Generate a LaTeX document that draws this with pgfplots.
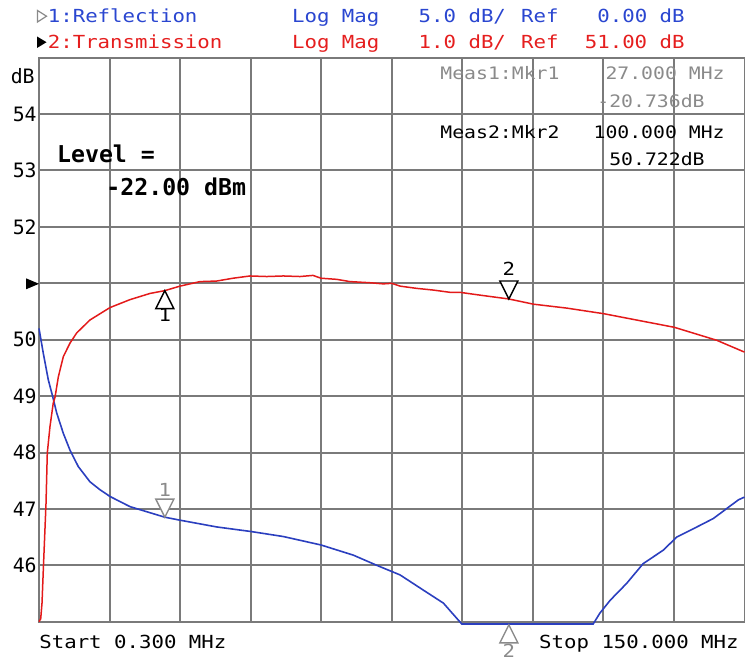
\documentclass[border=0pt]{standalone}
\usepackage{pgfplots}
\pgfplotsset{compat=1.18}
\usepackage{pgfplotstable}
\usepackage{fontspec}
\newfontfamily\mono{DejaVu Sans Mono}[FakeStretch=1.15]
\newfontfamily\monon{DejaVu Sans Mono}

\definecolor{tracered}{HTML}{E31A1A}
\definecolor{traceblue}{HTML}{2B3FBF}
\definecolor{txtblue}{HTML}{2A46D0}
\definecolor{txtred}{HTML}{E51E1E}
\definecolor{gridgray}{HTML}{7A7A7A}
\definecolor{mkgray}{HTML}{8A8A8A}

% trace 2: transmission, dB
\pgfplotstableread{
f s21
0.30 45.00
0.66 45.05
0.94 45.33
1.21 45.91
1.79 47.10
2.06 47.99
2.63 48.46
3.33 48.88
3.70 48.98
4.40 49.34
5.46 49.70
6.88 49.94
8.30 50.12
11.12 50.35
15.37 50.57
19.60 50.71
23.85 50.82
27.00 50.87
30.22 50.95
34.46 51.03
38.00 51.04
41.47 51.09
45.07 51.13
48.62 51.12
52.14 51.13
55.68 51.12
58.44 51.14
60.14 51.09
63.47 51.07
66.30 51.03
70.54 51.01
73.36 50.99
75.14 51.00
76.90 50.95
80.45 50.91
83.97 50.88
87.51 50.84
89.60 50.84
93.90 50.79
100.00 50.722
105.20 50.63
112.30 50.56
120.20 50.46
126.40 50.36
135.10 50.22
144.10 49.99
150.00 49.78
}\transdata

% trace 1: reflection, dB (5 dB/div, ref 0 dB on the 51 line)
\pgfplotstableread{
f s11
0.30 -4.00
1.21 -6.20
2.27 -8.55
3.21 -10.05
4.06 -11.50
5.46 -13.30
6.88 -14.80
8.64 -16.25
11.12 -17.60
13.24 -18.30
15.37 -18.90
19.61 -19.80
27.00 -20.736
30.22 -21.00
38.00 -21.60
45.20 -22.00
52.14 -22.45
60.14 -23.20
67.00 -24.10
71.96 -25.00
76.90 -25.85
81.85 -27.20
86.10 -28.35
90.00 -30.20
117.90 -30.20
119.30 -29.25
121.50 -28.10
125.00 -26.60
128.50 -24.85
132.80 -23.65
135.60 -22.50
139.90 -21.60
143.40 -20.85
148.70 -19.20
150.00 -18.95
}\refldata

\pgfdeclareplotmark{mkup}{%
  \pgfpathmoveto{\pgfpoint{0pt}{0pt}}%
  \pgfpathlineto{\pgfpoint{4.5pt}{-9pt}}%
  \pgfpathlineto{\pgfpoint{-4.5pt}{-9pt}}%
  \pgfpathclose\pgfusepathqfillstroke}
\pgfdeclareplotmark{mkdown}{%
  \pgfpathmoveto{\pgfpoint{0pt}{0pt}}%
  \pgfpathlineto{\pgfpoint{4.5pt}{9pt}}%
  \pgfpathlineto{\pgfpoint{-4.5pt}{9pt}}%
  \pgfpathclose\pgfusepathqfillstroke}

\begin{document}
\begin{tikzpicture}
\path[use as bounding box] (0,0) rectangle (372.5pt,330pt);
\begin{axis}[
    at={(19.5pt,19.15pt)}, anchor=south west,
    scale only axis, width=352.75pt, height=282pt,
    xmin=0.3, xmax=150, ymin=45, ymax=55,
    xtick={0.3,15.27,30.24,45.21,60.18,75.15,90.12,105.09,120.06,135.03,150},
    xticklabels={},
    ytick={45,46,...,55},
    yticklabels={,46,47,48,49,50,,52,53,54,},
    yticklabel style={font=\monon\fontsize{9.9}{11}\selectfont, inner sep=1pt},
    grid=major,
    major grid style={gridgray, line width=1pt},
    axis line style={gridgray, line width=1pt},
    major tick length=0pt,
    clip=false,
  ]
  \addplot[traceblue, line width=0.8pt] table[x=f, y expr=51+\thisrow{s11}/5] {\refldata};
  \addplot[tracered, line width=0.75pt] table[x=f, y=s21] {\transdata};

  % markers on transmission
  \addplot[only marks, mark=mkup, mark options={draw=black, fill=white, line width=0.7pt}] coordinates {(27,50.87)};
  \addplot[only marks, mark=mkdown, mark options={draw=black, fill=white, line width=0.7pt}] coordinates {(100,50.722)};
  \node[font=\mono\fontsize{9}{10}\selectfont, inner sep=0pt] at (axis cs:27,50.87) [yshift=-12.4pt] {1};
  \node[font=\mono\fontsize{9}{10}\selectfont, inner sep=0pt] at (axis cs:100,50.722) [yshift=15pt] {2};

  % markers on reflection
  \addplot[only marks, mark=mkdown, mark options={draw=mkgray, fill=white, line width=0.7pt}] coordinates {(27,46.853)};
  \addplot[only marks, mark=mkup, mark options={draw=mkgray, fill=white, line width=0.7pt, yshift=-1.6pt}] coordinates {(100,45)};
  \node[font=\mono\fontsize{9}{10}\selectfont, inner sep=0pt, text=mkgray] at (axis cs:27,46.853) [yshift=13.7pt] {1};
  \node[font=\mono\fontsize{9}{10}\selectfont, inner sep=0pt, text=mkgray] at (axis cs:100,45) [yshift=-14.4pt] {2};
\end{axis}

\begin{scope}[x=0.5pt, y=-0.5pt, yshift=330pt, every node/.style={inner sep=0pt}]
  % header
  \draw[mkgray, line width=0.6pt] (37.5,10.5) -- (37.5,22) -- (46.5,16.2) -- cycle;
  \fill[black] (37,36.5) -- (37,48) -- (46.5,42.2) -- cycle;
  \begin{scope}[every node/.append style={font=\mono\fontsize{9}{10}\selectfont}]
    \node[anchor=base west, text=txtblue] at (47.5,22.7) {1:Reflection};
    \node[anchor=base west, text=txtblue] at (291.7,22.7) {Log Mag};
    \node[anchor=base west, text=txtblue] at (418.3,22.7) {5.0 dB/};
    \node[anchor=base west, text=txtblue] at (520.7,22.7) {Ref};
    \node[anchor=base east, text=txtblue] at (685,22.7) {0.00 dB};
    \node[anchor=base west, text=txtred] at (47.5,48.5) {2:Transmission};
    \node[anchor=base west, text=txtred] at (291.7,48.5) {Log Mag};
    \node[anchor=base west, text=txtred] at (418.3,48.5) {1.0 dB/};
    \node[anchor=base west, text=txtred] at (520.7,48.5) {Ref};
    \node[anchor=base east, text=txtred] at (685,48.5) {51.00 dB};
    % footer
    \node[anchor=base west] at (39,648) {Start 0.300 MHz};
    \node[anchor=base east] at (739,648) {Stop 150.000 MHz};
  \end{scope}
  % y unit and reference arrow
  \node[anchor=base east, font=\monon\fontsize{9.9}{11}\selectfont] at (35,84) {dB};
  \fill[black] (26,278.3) -- (26,289.3) -- (39,283.8) -- cycle;
  % level
  \node[anchor=base west, font=\monon\bfseries\fontsize{11.6}{13}\selectfont] at (56.7,163) {Level =};
  \node[anchor=base west, font=\monon\bfseries\fontsize{11.6}{13}\selectfont] at (106,196) {-22.00 dBm};
  % marker readouts
  \begin{scope}[every node/.append style={font=\mono\fontsize{8.6}{10}\selectfont}]
    \node[anchor=base west, text=mkgray] at (440,80) {Meas1:Mkr1};
    \node[anchor=base east, text=mkgray] at (725,80) {27.000 MHz};
    \node[anchor=base east, text=mkgray] at (705,108) {-20.736dB};
    \node[anchor=base west] at (440,138.3) {Meas2:Mkr2};
    \node[anchor=base east] at (725,138.3) {100.000 MHz};
    \node[anchor=base east] at (705,166) {50.722dB};
  \end{scope}
\end{scope}
\end{tikzpicture}
\end{document}
